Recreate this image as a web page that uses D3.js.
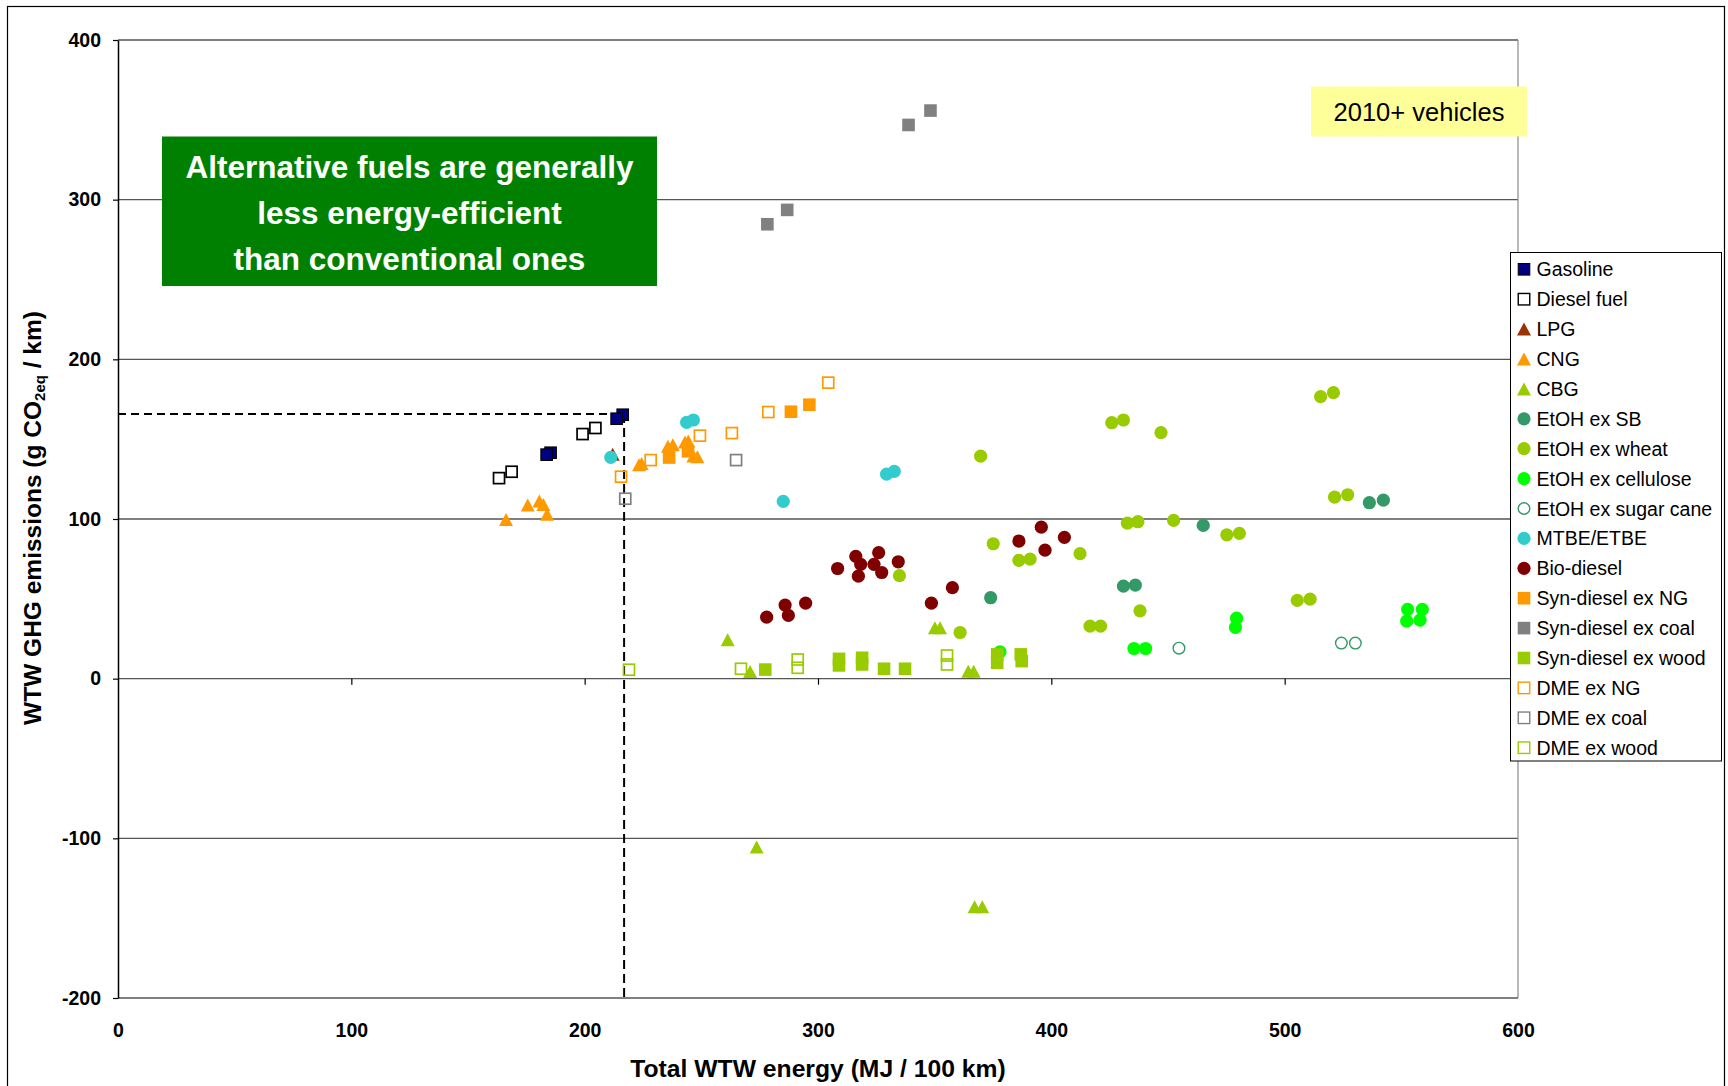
<!DOCTYPE html>
<html>
<head>
<meta charset="utf-8">
<script src="https://cdn.jsdelivr.net/npm/d3@7"></script>
<style>
  html, body { margin: 0; padding: 0; background: #fff; }
  svg { display: block; font-family: "Liberation Sans", Arial, sans-serif; }
</style>
</head>
<body>
<svg id="chart" width="1728" height="1086"></svg>
<script>
// ---------------- DATA (x = total WTW energy MJ/100km, y = WTW GHG g CO2eq/km) ----------------
const gasoline = [[216.3,165.3],[213.7,162.8],[185.4,141.5],[183.7,140.3]];
const dieselFuel = [[163.3,125.6],[168.7,129.6],[199.1,153.2],[204.6,157.0]];
const lpg = [[212.0,140.5]];
const cng = [[166.3,99.7],[175.6,108.7],[180.6,111.2],[182.3,109.1],[183.9,102.9],[223.3,134.0],[224.4,134.8],
             [235.7,145.5],[237.8,146.5],[243.0,148.2],[244.4,148.8],[245.0,143.6],[246.6,139.4],[248.3,139.0]];
const cbg = [[261.3,24.3],[270.9,4.5],[273.7,-105.4],[350.1,31.9],[352.3,31.9],[364.4,4.7],[366.7,4.7],[367.1,-142.9],[370.4,-142.9]];
const etohSB = [[374.0,50.7],[430.9,58.0],[436.0,58.6],[465.1,96.0],[536.3,110.2],[542.3,111.8]];
const etohWheat = [[334.9,64.5],[369.7,139.4],[375.1,84.5],[360.9,28.9],[386.1,74.1],[390.9,74.9],[412.3,78.3],
                   [425.9,160.3],[430.9,162.0],[447.0,154.1],[432.6,97.4],[437.1,98.3],[452.4,99.1],[416.6,32.9],
                   [421.1,32.9],[438.0,42.5],[475.2,90.1],[480.6,91.0],[505.4,49.0],[510.9,49.8],[515.4,176.6],
                   [520.9,179.1],[521.4,113.7],[527.0,115.2]];
const etohCellulose = [[378.0,16.8],[435.4,18.9],[440.4,18.9],[479.4,37.9],[478.9,32.1],[552.7,43.4],[559.0,43.4],[552.3,36.0],[558.0,36.7]];
const etohSugarCane = [[454.7,19.1],[524.3,22.3],[530.3,22.3]];
const mtbeEtbe = [[211.2,138.6],[243.7,160.5],[246.6,162.0],[285.1,111.0],[329.4,128.1],[332.7,129.8]];
const bioDiesel = [[278.0,38.5],[285.9,46.1],[287.3,39.6],[294.7,47.3],[308.4,69.0],[316.2,76.6],[318.3,71.6],
                   [317.3,64.2],[324.0,71.6],[326.0,78.9],[327.3,66.5],[334.4,73.2],[348.6,47.3],[357.6,57.0],
                   [386.1,86.2],[395.7,94.9],[397.3,80.5],[405.6,88.5]];
const synDieselNG = [[236.2,138.5],[244.3,142.4],[288.4,167.2],[296.3,171.6]];
const synDieselCoal = [[278.3,284.6],[286.8,293.6],[338.8,346.8],[348.2,355.8]];
const synDieselWood = [[277.4,5.7],[309.0,12.4],[309.0,8.3],[318.9,13.1],[318.9,8.9],[328.3,6.2],[337.3,6.2],
                       [376.8,15.2],[376.8,10.0],[386.9,15.2],[387.3,11.0]];
const dmeNG = [[215.6,126.5],[228.3,136.9],[249.4,152.2],[263.1,153.8],[278.7,167.0],[304.4,185.4]];
const dmeCoal = [[217.4,112.7],[264.9,136.9]];
const dmeWood = [[219.0,5.6],[267.0,6.2],[291.3,12.0],[291.3,6.8],[355.3,14.5],[355.3,8.9]];

const seriesNames = ["Gasoline","Diesel fuel","LPG","CNG","CBG","EtOH ex SB","EtOH ex wheat","EtOH ex cellulose",
  "EtOH ex sugar cane","MTBE/ETBE","Bio-diesel","Syn-diesel ex NG","Syn-diesel ex coal","Syn-diesel ex wood",
  "DME ex NG","DME ex coal","DME ex wood"];
const seriesData = [gasoline, dieselFuel, lpg, cng, cbg, etohSB, etohWheat, etohCellulose, etohSugarCane,
  mtbeEtbe, bioDiesel, synDieselNG, synDieselCoal, synDieselWood, dmeNG, dmeCoal, dmeWood];

const xTicks = [0,100,200,300,400,500,600];
const yTicks = [-200,-100,0,100,200,300,400];
const referencePoint = [216.9, 165.7];   // gasoline reference (dashed lines)
const noteLines = ["Alternative fuels are generally","less energy-efficient","than conventional ones"];
const tagText = "2010+ vehicles";

// ---------------- STYLES ----------------
const styles = [
  {shape:"square",   fill:"#000080", stroke:"#000000"},
  {shape:"square",   fill:"none",    stroke:"#000000"},
  {shape:"triangle", fill:"#993300", stroke:"none"},
  {shape:"triangle", fill:"#FF9900", stroke:"none"},
  {shape:"triangle", fill:"#99CC00", stroke:"none"},
  {shape:"circle",   fill:"#339966", stroke:"none"},
  {shape:"circle",   fill:"#99CC00", stroke:"none"},
  {shape:"circle",   fill:"#00FF00", stroke:"none"},
  {shape:"circle",   fill:"none",    stroke:"#339966"},
  {shape:"circle",   fill:"#33CCCC", stroke:"none"},
  {shape:"circle",   fill:"#800000", stroke:"none"},
  {shape:"square",   fill:"#FF9900", stroke:"none"},
  {shape:"square",   fill:"#808080", stroke:"none"},
  {shape:"square",   fill:"#99CC00", stroke:"none"},
  {shape:"square",   fill:"none",    stroke:"#FF9900"},
  {shape:"square",   fill:"none",    stroke:"#808080"},
  {shape:"square",   fill:"none",    stroke:"#99CC00"}
];

const FONT = '"Liberation Sans", Arial, sans-serif';
const svg = d3.select("#chart");

const pLeft = 118, pRight = 1518, pTop = 40, pBottom = 998;
const x = d3.scaleLinear().domain([0,600]).range([pLeft,pRight]);
const y = d3.scaleLinear().domain([-200,400]).range([pBottom,pTop]);

// outer frame
svg.append("rect").attr("x",7.5).attr("y",6.5).attr("width",1717).attr("height",1100)
  .attr("fill","none").attr("stroke","#000").attr("stroke-width",1.2);

// horizontal gridlines
svg.append("g").selectAll("line").data(yTicks).join("line")
  .attr("x1",pLeft).attr("x2",pRight).attr("y1",d=>y(d)).attr("y2",d=>y(d))
  .attr("stroke","#555").attr("stroke-width",1.4);
// right border of plot area
svg.append("line").attr("x1",pRight).attr("x2",pRight).attr("y1",pTop).attr("y2",pBottom)
  .attr("stroke","#8a8a8a").attr("stroke-width",1.2);

// Y axis
const yAxis = d3.axisLeft(y).tickValues(yTicks).tickSize(5).tickPadding(12).tickSizeOuter(0).tickFormat(d => String(d));
const gy = svg.append("g").attr("transform",`translate(${pLeft},0)`).call(yAxis);
gy.select(".domain").attr("stroke","#000").attr("stroke-width",1.5);
gy.selectAll(".tick line").attr("stroke","#000").attr("stroke-width",1.2);
gy.selectAll(".tick text").attr("font-family",FONT).attr("font-size",19.5).attr("font-weight","bold").attr("fill","#000");

// X axis ticks on the zero line
const xAxisTicks = d3.axisBottom(x).tickValues(xTicks.slice(1,-1)).tickSize(6).tickFormat("").tickSizeOuter(0);
const gx0 = svg.append("g").attr("transform",`translate(0,${y(0)})`).call(xAxisTicks);
gx0.select(".domain").remove();
gx0.selectAll(".tick line").attr("stroke","#000").attr("stroke-width",1.2);
// X axis labels at bottom
const xAxisLabels = d3.axisBottom(x).tickValues(xTicks).tickSize(0).tickPadding(25).tickFormat(d => String(d));
const gx = svg.append("g").attr("transform",`translate(0,${pBottom})`).call(xAxisLabels);
gx.select(".domain").remove();
gx.selectAll(".tick text").attr("font-family",FONT).attr("font-size",19.5).attr("font-weight","bold").attr("fill","#000");

// axis titles
svg.append("text").attr("x",818).attr("y",1077).attr("text-anchor","middle")
  .attr("font-family",FONT).attr("font-size",24.7).attr("font-weight","bold").attr("fill","#000")
  .text("Total WTW energy (MJ / 100 km)");
const yt = svg.append("text").attr("transform","translate(41,518) rotate(-90)").attr("text-anchor","middle")
  .attr("font-family",FONT).attr("font-size",24.5).attr("font-weight","bold").attr("fill","#000");
yt.append("tspan").text("WTW GHG emissions (g CO");
yt.append("tspan").attr("font-size",15).attr("dy",4).text("2eq");
yt.append("tspan").attr("dy",-4).text(" / km)");

// dashed reference lines
svg.append("line").attr("x1",pLeft).attr("x2",x(referencePoint[0])).attr("y1",y(referencePoint[1])).attr("y2",y(referencePoint[1]))
  .attr("stroke","#000").attr("stroke-width",2).attr("stroke-dasharray","8,5");
svg.append("line").attr("x1",x(referencePoint[0])).attr("x2",x(referencePoint[0])).attr("y1",y(referencePoint[1])).attr("y2",pBottom)
  .attr("stroke","#000").attr("stroke-width",2).attr("stroke-dasharray","9,5");

// green note box
svg.append("rect").attr("x",162).attr("y",136.5).attr("width",495).attr("height",149.5).attr("fill","#008000");
svg.append("g").selectAll("text").data(noteLines).join("text")
  .attr("x",409.5).attr("y",(d,i)=>177.5 + i*46).attr("text-anchor","middle")
  .attr("font-family",FONT).attr("font-size",31.5).attr("font-weight","bold").attr("fill","#fff")
  .text(d=>d);

// yellow tag
svg.append("rect").attr("x",1311).attr("y",86.5).attr("width",216).attr("height",50).attr("fill","#FFFF99");
svg.append("text").attr("x",1419).attr("y",120.5).attr("text-anchor","middle")
  .attr("font-family",FONT).attr("font-size",25.5).attr("fill","#000").text(tagText);

// marker drawer
function drawMarker(g, st, cx, cy, legend) {
  if (st.shape === "square") {
    if (st.fill === "none") {
      const s = legend ? 11.5 : 11;
      g.append("rect").attr("x",cx-s/2).attr("y",cy-s/2).attr("width",s).attr("height",s)
        .attr("fill","none").attr("stroke",st.stroke).attr("stroke-width",legend?1.4:1.7);
    } else {
      const s = 12.6;
      const r = g.append("rect").attr("x",cx-s/2).attr("y",cy-s/2).attr("width",s).attr("height",s).attr("fill",st.fill);
      if (st.stroke !== "none") r.attr("stroke",st.stroke).attr("stroke-width",1).attr("x",cx-s/2+0.5).attr("y",cy-s/2+0.5).attr("width",s-1).attr("height",s-1);
    }
  } else if (st.shape === "triangle") {
    const w = 14, h = 13;
    g.append("path").attr("d",`M${cx},${cy-h/2}L${cx+w/2},${cy+h/2}L${cx-w/2},${cy+h/2}Z`).attr("fill",st.fill);
  } else {
    if (st.fill === "none") {
      g.append("circle").attr("cx",cx).attr("cy",cy).attr("r",5.8).attr("fill","none").attr("stroke",st.stroke).attr("stroke-width",1.4);
    } else {
      g.append("circle").attr("cx",cx).attr("cy",cy).attr("r",6.6).attr("fill",st.fill);
    }
  }
}

// points
const pts = svg.append("g");
seriesData.forEach((data,i) => {
  const g = pts.append("g").attr("class","series");
  data.forEach(d => drawMarker(g, styles[i], x(d[0]), y(d[1]), false));
});

// legend
const lg = svg.append("g");
lg.append("rect").attr("x",1510.5).attr("y",252.5).attr("width",211).attr("height",508.5)
  .attr("fill","#fff").attr("stroke","#000").attr("stroke-width",1);
seriesNames.forEach((name,i) => {
  const cy = 269.3 + i*29.9;
  drawMarker(lg, styles[i], 1524, cy, true);
  lg.append("text").attr("x",1536.5).attr("y",cy+7).attr("font-family",FONT).attr("font-size",19.5)
    .attr("fill","#000").text(name);
});
</script>
</body>
</html>
